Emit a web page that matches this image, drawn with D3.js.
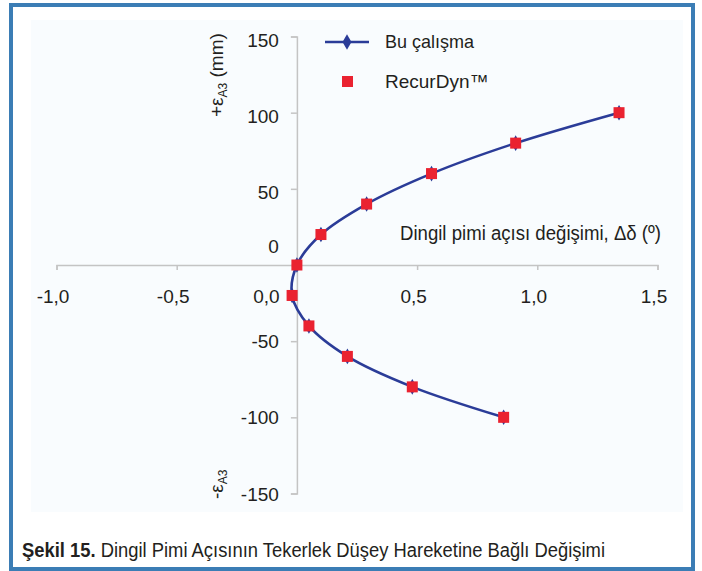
<!DOCTYPE html>
<html>
<head>
<meta charset="utf-8">
<script src="https://cdn.jsdelivr.net/npm/d3@7/dist/d3.min.js"></script>
<style>
  html, body { margin: 0; padding: 0; background: #ffffff; }
  svg { display: block; }
  text { font-family: "Liberation Sans", Arial, sans-serif; fill: #231f20; }
</style>
</head>
<body>
<svg id="chart" width="702" height="571"></svg>
<script>
// Kingpin angle change (deg) against vertical wheel travel (mm)
const travelMm = [100, 80, 60, 40, 20, 0, -20, -40, -60, -80, -100];
const angleThisStudy = [1.34, 0.91, 0.56, 0.29, 0.10, 0.0, -0.02, 0.05, 0.21, 0.48, 0.86];
const angleRecurDyn = [1.34, 0.91, 0.56, 0.29, 0.10, 0.0, -0.02, 0.05, 0.21, 0.48, 0.86];
const xTicks = [-1.0, -0.5, 0.0, 0.5, 1.0, 1.5];
const yTicks = [150, 100, 50, 0, -50, -100, -150];
const seriesNames = ["Bu çalışma", "RecurDyn™"];

const svg = d3.select("#chart");

// outer frame and plot panel
svg.append("rect").attr("x", 31).attr("y", 20).attr("width", 652).attr("height", 492)
  .attr("fill", "#f9fcfe");
svg.append("rect").attr("x", 11).attr("y", 5).attr("width", 682).attr("height", 564)
  .attr("fill", "none").attr("stroke", "#3b7db5").attr("stroke-width", 4);

const x = d3.scaleLinear().domain([-1.0, 1.5]).range([56.5, 657.5]);
const y = d3.scaleLinear().domain([-150, 150]).range([493.5, 36.5]);

const fmt = d => d3.format(".1f")(d).replace(".", ",").replace("−", "-");
const axisColor = "#c4c4c4";

// horizontal axis through zero travel
const gx = svg.append("g").attr("transform", `translate(0,${y(0)})`)
  .call(d3.axisBottom(x).tickValues(xTicks).tickSize(5).tickPadding(20).tickFormat(fmt));
gx.select(".domain").attr("stroke", axisColor).attr("stroke-width", 1.5);
gx.selectAll(".tick line").attr("stroke", axisColor).attr("stroke-width", 1.5);
gx.selectAll(".tick text")
  .attr("font-size", 19).attr("fill", "#231f20")
  .attr("font-family", "Liberation Sans, Arial, sans-serif")
  .attr("dx", d => d === 0 ? -31 : -4);

// vertical axis through zero angle
const gy = svg.append("g").attr("transform", `translate(${x(0)},0)`)
  .call(d3.axisLeft(y).tickValues(yTicks).tickSize(6).tickPadding(12).tickFormat(d => String(d)));
gy.select(".domain").attr("stroke", axisColor).attr("stroke-width", 1.5);
gy.selectAll(".tick line").attr("stroke", axisColor).attr("stroke-width", 1.5);
gy.selectAll(".tick text")
  .attr("font-size", 19).attr("fill", "#231f20")
  .attr("font-family", "Liberation Sans, Arial, sans-serif")
  .attr("dy", d => d === 0 ? "-0.68em" : (d > 0 ? "0.5em" : "0.35em"));

// smoothed line for this study
const pts = travelMm.map((t, i) => [angleThisStudy[i], t]);
const line = d3.line().x(d => x(d[0])).y(d => y(d[1])).curve(d3.curveCatmullRom.alpha(0.5));
svg.append("path").datum(pts).attr("d", line)
  .attr("fill", "none").attr("stroke", "#2b3c98").attr("stroke-width", 2.6);

const diamond = d3.symbol().type(d3.symbolDiamond).size(70);
svg.append("g").selectAll("path").data(pts).join("path")
  .attr("d", diamond).attr("transform", d => `translate(${x(d[0])},${y(d[1])})`)
  .attr("fill", "#2b3c98");

// RecurDyn reference points
const refPts = travelMm.map((t, i) => [angleRecurDyn[i], t]);
const sq = 11;
svg.append("g").selectAll("rect").data(refPts).join("rect")
  .attr("x", d => x(d[0]) - sq / 2).attr("y", d => y(d[1]) - sq / 2)
  .attr("width", sq).attr("height", sq).attr("fill", "#ea2230");

// legend
const lg = svg.append("g");
lg.append("line").attr("x1", 325).attr("x2", 369).attr("y1", 42).attr("y2", 42)
  .attr("stroke", "#2b3c98").attr("stroke-width", 2.6);
lg.append("path").attr("d", diamond).attr("transform", "translate(347,42)").attr("fill", "#2b3c98");
lg.append("text").attr("x", 385).attr("y", 48).attr("font-size", 19)
  .attr("textLength", 89).attr("lengthAdjust", "spacingAndGlyphs").text(seriesNames[0]);
lg.append("rect").attr("x", 342).attr("y", 76).attr("width", sq).attr("height", sq).attr("fill", "#ea2230");
lg.append("text").attr("x", 385).attr("y", 88).attr("font-size", 19).text(seriesNames[1]);

// axis titles
svg.append("text").attr("x", 400).attr("y", 240).attr("font-size", 20)
  .attr("textLength", 261).attr("lengthAdjust", "spacingAndGlyphs")
  .text("Dingil pimi açısı değişimi, Δδ (º)");

const yt = svg.append("text").attr("transform", "translate(223,117) rotate(-90)").attr("font-size", 19);
yt.append("tspan").text("+ε");
yt.append("tspan").attr("font-size", 12).attr("dy", 4).text("A3");
yt.append("tspan").attr("dy", -4).text(" (mm)");

const yb = svg.append("text").attr("transform", "translate(223,499) rotate(-90)").attr("font-size", 19);
yb.append("tspan").text("-ε");
yb.append("tspan").attr("font-size", 12).attr("dy", 4).text("A3");

// figure caption
const cap = svg.append("text").attr("x", 22).attr("y", 557).attr("font-size", 20)
  .attr("textLength", 583).attr("lengthAdjust", "spacingAndGlyphs");
cap.append("tspan").attr("font-weight", "bold").text("Şekil 15.");
cap.append("tspan").text(" Dingil Pimi Açısının Tekerlek Düşey Hareketine Bağlı Değişimi");
</script>
</body>
</html>
